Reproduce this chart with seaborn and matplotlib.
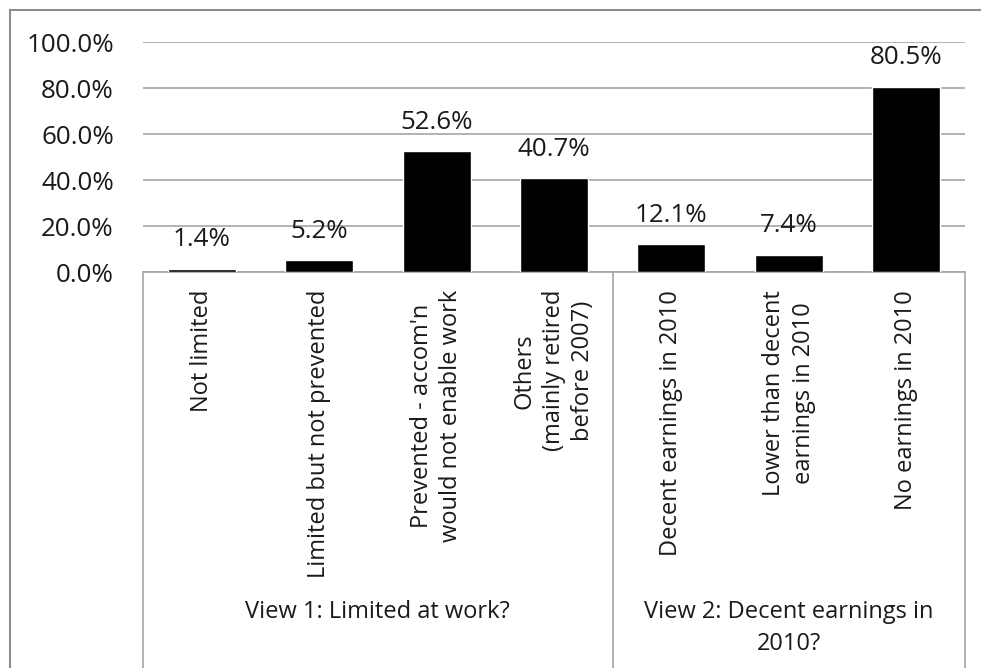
import matplotlib
matplotlib.use("Agg")
import matplotlib.pyplot as plt
import matplotlib.transforms as mtransforms
from matplotlib.lines import Line2D
from matplotlib.patches import Rectangle
import seaborn as sns

# Category labels (two groups) and shares in percent
categories = [
    "Not limited",
    "Limited but not prevented",
    "Prevented - accom'n\nwould not enable work",
    "Others\n(mainly retired\nbefore 2007)",
    "Decent earnings in 2010",
    "Lower than decent\nearnings in 2010",
    "No earnings in 2010",
]
values = [1.4, 5.2, 52.6, 40.7, 12.1, 7.4, 80.5]
group_names = ["View 1: Limited at work?", "View 2: Decent earnings in\n2010?"]
group_sizes = [4, 3]
y_ticks = [0, 20, 40, 60, 80, 100]

sns.set_style("white")
plt.rcParams["font.family"] = ["Open Sans", "DejaVu Sans"]

TEXT = "#1a1a1a"
GRID = "#a6a6a6"
FS = 17      # category and group text
FS_NUM = 18.7  # percentages

W, H = 981, 668
fig = plt.figure(figsize=(W / 100, H / 100), dpi=100)
fig.patch.set_facecolor("white")

left, right, top, base = 143, 965, 42, 272
ax = fig.add_axes([left / W, (H - base) / H, (right - left) / W, (base - top) / H])

sns.barplot(x=categories, y=values, color="black", saturation=1, width=0.58,
            ax=ax, zorder=3)

ax.set_xlim(-0.5, len(categories) - 0.5)
ax.set_ylim(0, 100)
ax.set_yticks(y_ticks)
ax.set_yticklabels([f"{t:.1f}%" for t in y_ticks], fontsize=FS_NUM, color=TEXT)
ax.tick_params(axis="y", length=0, pad=21)
ax.tick_params(axis="x", length=0, pad=13)
ax.set_xticks(range(len(categories)))
ax.set_xticklabels(categories, rotation=90, fontsize=FS, color=TEXT,
                   va="top", ha="center", multialignment="center",
                   linespacing=1.3)
ax.set_xlabel("")
ax.set_ylabel("")

ax.yaxis.grid(True, color=GRID, linewidth=1.2, zorder=0)
ax.set_axisbelow(True)
for side in ["left", "right", "top"]:
    ax.spines[side].set_visible(False)
ax.spines["bottom"].set_color(GRID)
ax.spines["bottom"].set_linewidth(1.2)

# Value labels above bars
for i, v in enumerate(values):
    ax.annotate(f"{v:.1f}%", xy=(i, v), xytext=(0, 29), textcoords="offset pixels",
                ha="center", va="center", fontsize=FS_NUM, color=TEXT, zorder=4)

# Grouped category axis: separators and group names
blend = mtransforms.blended_transform_factory(ax.transData, fig.transFigure)
axis_y = (H - base) / H
edges = [-0.5]
for s in group_sizes:
    edges.append(edges[-1] + s)
for e in edges:
    fig.add_artist(Line2D([e, e], [axis_y, -0.01], transform=blend,
                          color=GRID, linewidth=1.2))
for name, a, b in zip(group_names, edges[:-1], edges[1:]):
    fig.text((a + b) / 2, (H - 600) / H, name, transform=blend,
             ha="center", va="top", fontsize=FS, color=TEXT,
             multialignment="center", linespacing=1.45)

# Chart border
fig.add_artist(Rectangle((10 / W, -0.1), 1.2, (H - 10) / H + 0.1,
                         transform=fig.transFigure, fill=False,
                         edgecolor="#8c8c8c", linewidth=1.5))

fig.savefig("out.png", dpi=100, facecolor="white")
